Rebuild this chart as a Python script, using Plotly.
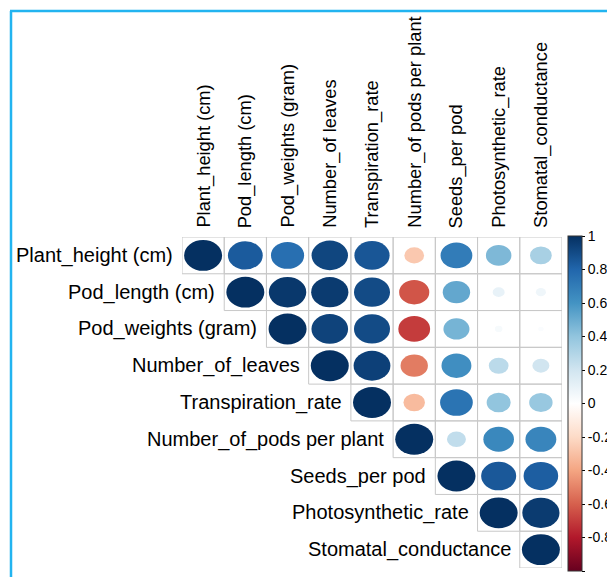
import numpy as np
import plotly.graph_objects as go

col_labels = ["Plant_height (cm)", "Pod_length (cm)", "Pod_weights (gram)", "Number_of leaves",
              "Transpiration_rate", "Number_of pods per plant", "Seeds_per pod",
              "Photosynthetic_rate", "Stomatal_conductance"]
row_labels = ["Plant_height (cm)", "Pod_length (cm)", "Pod_weights (gram)", "Number_of_leaves",
              "Transpiration_rate", "Number_of_pods per plant", "Seeds_per pod",
              "Photosynthetic_rate", "Stomatal_conductance"]

# upper-triangle correlations, row i starts at column i
corr_rows = [
    [1.00, 0.84, 0.76, 0.92, 0.86, -0.27, 0.70, 0.45, 0.33],
    [1.00, 0.97, 0.96, 0.90, -0.63, 0.52, 0.10, 0.07],
    [1.00, 0.93, 0.90, -0.70, 0.47, 0.04, 0.02],
    [1.00, 0.94, -0.52, 0.62, 0.27, 0.20],
    [1.00, -0.32, 0.74, 0.40, 0.38],
    [1.00, 0.25, 0.65, 0.66],
    [1.00, 0.85, 0.83],
    [1.00, 0.96],
    [1.00],
]

tick_vals = [1, 0.8, 0.6, 0.4, 0.2, 0, -0.2, -0.4, -0.6, -0.8, -1]
tick_text = ["1", "0.8", "0.6", "0.4", "0.2", "0", "-0.2", "-0.4", "-0.6", "-0.8", "-1"]

pal = ["#67001F", "#B2182B", "#D6604D", "#F4A582", "#FDDBC7", "#FFFFFF",
       "#D1E5F0", "#92C5DE", "#4393C3", "#2166AC", "#053061"]


def hex2rgb(h):
    return tuple(int(h[k:k + 2], 16) for k in (1, 3, 5))


def col_of(r):
    t = (r + 1) / 2 * (len(pal) - 1)
    i = min(int(np.floor(t)), len(pal) - 2)
    f = t - i
    a, b = hex2rgb(pal[i]), hex2rgb(pal[i + 1])
    c = [round(a[k] + (b[k] - a[k]) * f) for k in range(3)]
    return "rgb(%d,%d,%d)" % tuple(c)


n = len(row_labels)
xs, ys, vs, hov = [], [], [], []
for i, row in enumerate(corr_rows):
    for k, v in enumerate(row):
        j = i + k
        xs.append(j)
        ys.append(i)
        vs.append(v)
        hov.append("%s / %s: %.2f" % (row_labels[i], col_labels[j], v))

shapes = []
# grid cells
for x, y in zip(xs, ys):
    shapes.append(dict(type="rect", xref="x", yref="y", x0=x - 0.5, x1=x + 0.5,
                       y0=y - 0.5, y1=y + 0.5, line=dict(color="#C8C8C8", width=1),
                       fillcolor="rgba(0,0,0,0)", layer="below"))
# ellipses (area proportional to |r|)
for x, y, v in zip(xs, ys, vs):
    s = np.sqrt(abs(v))
    rx, ry = 0.45 * s, 0.42 * s
    shapes.append(dict(type="circle", xref="x", yref="y", x0=x - rx, x1=x + rx,
                       y0=y - ry, y1=y + ry, fillcolor=col_of(v), line=dict(width=0)))

# blue frame
L, R, T, B = 182, 562, 237, 568
W = R - L
H = B - T


def px(p):
    return (p - L) / W


def py(p):
    return (B - p) / H


frame = "#22B4F0"
shapes.append(dict(type="line", xref="paper", yref="paper", x0=px(11), x1=px(11),
                   y0=py(11), y1=py(600), line=dict(color=frame, width=2.5)))
shapes.append(dict(type="line", xref="paper", yref="paper", x0=px(10), x1=px(640),
                   y0=py(11), y1=py(11), line=dict(color=frame, width=2.5)))

cscale = [[k / (len(pal) - 1), c] for k, c in enumerate(pal)]

fig = go.Figure()
fig.add_trace(go.Scatter(
    x=xs, y=ys, mode="markers", text=hov, hoverinfo="text",
    marker=dict(size=30, color=vs, colorscale=cscale, cmin=-1, cmax=1, opacity=0,
                showscale=True,
                colorbar=dict(x=px(568), xanchor="left", xpad=0, ypad=0,
                              y=py(236), yanchor="top", lenmode="pixels", len=335,
                              thickness=14, outlinewidth=1, outlinecolor="#333333",
                              tickvals=tick_vals, ticktext=tick_text, ticks="outside",
                              ticklen=3, tickcolor="#000000",
                              tickfont=dict(family="Liberation Sans, Arial", size=14,
                                            color="#000000"))),
    showlegend=False))

ann = []
for i, lab in enumerate(row_labels):
    ann.append(dict(x=i - 0.5, y=i, xref="x", yref="y", text=lab, showarrow=False,
                    xanchor="right", yanchor="middle", xshift=-7,
                    font=dict(family="Liberation Sans, Arial", size=20, color="#000000")))
for j, lab in enumerate(col_labels):
    ann.append(dict(x=j, y=-0.5, xref="x", yref="y", text=lab, showarrow=False,
                    textangle=-90, xanchor="center", yanchor="bottom", yshift=7,
                    font=dict(family="Liberation Sans, Arial", size=18.3, color="#000000")))

fig.update_layout(
    width=607, height=577,
    margin=dict(l=L, r=607 - R, t=T, b=577 - B, autoexpand=False),
    paper_bgcolor="white", plot_bgcolor="white",
    xaxis=dict(range=[-0.5, n - 0.5], visible=False, fixedrange=True),
    yaxis=dict(range=[n - 0.5, -0.5], visible=False, fixedrange=True),
    shapes=shapes, annotations=ann,
)

fig.write_html("out.html")
